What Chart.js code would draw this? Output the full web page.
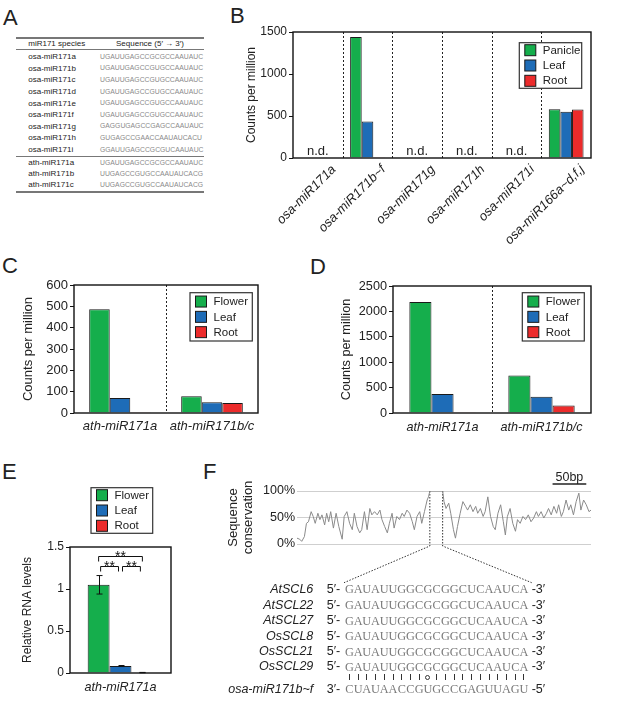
<!DOCTYPE html>
<html>
<head>
<meta charset="utf-8">
<title>miR171 expression</title>
<script src="https://cdn.jsdelivr.net/npm/chart.js@4.4.1/dist/chart.umd.min.js"></script>
<style>
  body { margin: 0; background: #fff; }
  #fig { position: relative; width: 617px; height: 701px; overflow: hidden;
         font-family: "Liberation Sans", Arial, sans-serif; color: #222; }
  #fig canvas { position: absolute; }
  .t { position: absolute; white-space: nowrap; }
  .hr { position: absolute; left: 16px; width: 188px; background: #777; }
</style>
</head>
<body>
<div id="fig"></div>
<script>
// ---- Panel A: mature miR171 sequences ----
const tableNames = ["osa-miR171a", "osa-miR171b", "osa-miR171c", "osa-miR171d", "osa-miR171e",
  "osa-miR171f", "osa-miR171g", "osa-miR171h", "osa-miR171i", "ath-miR171a", "ath-miR171b", "ath-miR171c"];
const tableSeqs = ["UGAUUGAGCCGCGCCAAUAUC", "UGAUUGAGCCGUGCCAAUAUC", "UGAUUGAGCCGUGCCAAUAUC",
  "UGAUUGAGCCGUGCCAAUAUC", "UGAUUGAGCCGUGCCAAUAUC", "UGAUUGAGCCGUGCCAAUAUC", "GAGGUGAGCCGAGCCAAUAUC",
  "GUGAGCCGAACCAAUAUCACU", "GGAUUGAGCCGCGUCAAUAUC", "UGAUUGAGCCGCGCCAAUAUC", "UUGAGCCGUGCCAAUAUCACG",
  "UUGAGCCGUGCCAAUAUCACG"];

// ---- Panel B: rice small RNA counts (null = not detected) ----
const riceLabels = ["osa-miR171a", "osa-miR171b~f", "osa-miR171g", "osa-miR171h", "osa-miR171i", "osa-miR166a~d,f,j"];
const ricePanicle = [null, 1440, null, null, null, 580];
const riceLeaf = [null, 434, null, null, null, 552];
const riceRoot = [null, 10, null, null, null, 578];

// ---- Panels C and D: Arabidopsis small RNA counts ----
const athLabels = ["ath-miR171a", "ath-miR171b/c"];
const cFlower = [486, 78];
const cLeaf = [70, 50];
const cRoot = [1, 47];
const dFlower = [2186, 737];
const dLeaf = [372, 319];
const dRoot = [3, 149];

// ---- Panel E: qRT-PCR ----
const qLabels = ["ath-miR171a"];
const qFlower = [1.05];
const qFlowerErr = [0.11];
const qLeaf = [0.083];
const qLeafErr = [0.006];
const qRoot = [0.005];
const qRootErr = [0.002];
const sigPairs = [[0, 1], [1, 2], [0, 2]];
const sigLevels = [1.27, 1.27, 1.39];
const sigText = ["**", "**", "**"];

// ---- Panel F: conservation trace (bp, %) and target sites ----
const consPos = [0, 4, 7, 11, 14, 17, 21, 24, 27, 31, 34, 37, 41, 44, 47, 50, 54, 58, 62, 67, 70, 74, 78, 82,
  85, 89, 93, 96, 100, 104, 108, 111, 115, 119, 123, 126, 130, 134, 137, 141, 144, 148, 152, 156, 159, 163,
  167, 171, 174, 178, 182, 185, 189, 193, 195, 197, 216, 218, 221, 225, 228, 232, 235, 238, 242, 246, 250,
  253, 257, 261, 265, 268, 272, 276, 279, 283, 287, 291, 294, 298, 302, 306, 309, 312, 316, 320, 324, 327,
  331, 335, 339, 343, 347, 351, 355, 358, 362, 366, 370, 373, 377, 381, 385, 388, 392, 395, 399, 403, 406,
  410, 414, 418, 421, 425, 429, 433, 436];
const consVal = [11, 9, 5, 14, 39, 42, 61, 52, 39, 58, 46, 55, 36, 58, 42, 61, 30, 58, 33, 9, 52, 61, 39, 27,
  58, 33, 21, 27, 61, 27, 67, 55, 61, 55, 64, 46, 33, 21, 39, 58, 30, 52, 46, 58, 52, 64, 58, 42, 27, 52, 61,
  39, 61, 83, 89, 100, 100, 80, 67, 77, 58, 27, 11, 33, 58, 80, 71, 64, 74, 61, 71, 58, 67, 52, 61, 89, 52,
  33, 27, 58, 74, 42, 17, 52, 67, 39, 24, 46, 39, 52, 46, 55, 42, 49, 61, 52, 61, 49, 58, 67, 55, 71, 58,
  74, 52, 61, 83, 64, 74, 55, 80, 96, 64, 83, 74, 61, 64];
const siteStart = 197;
const siteEnd = 216;
const scaleBarEnd = 429;
const scaleBarLen = 50;
const targetNames = ["AtSCL6", "AtSCL22", "AtSCL27", "OsSCL8", "OsSCL21", "OsSCL29"];
const targetSites = ["GAUAUUGGCGCGGCUCAAUCA", "GAUAUUGGCGCGGCUCAAUCA", "GAUAUUGGCGCGGCUCAAUCA",
  "GAUAUUGGCGCGGCUCAAUCA", "GAUAUUGGCGCGGCUCAAUCA", "GAUAUUGGCGCGGCUCAAUCA"];
const guideName = "osa-miR171b~f";
const guideSeq = "CUAUAACCGUGCCGAGUUAGU";
const pairMarks = "|||||||||o|||||||||||";

const GREEN = "#15ae4c", BLUE = "#1e6cb7", RED = "#ec2b2b", EDGE = "#1a1a1a";
const SANS = '"Liberation Sans", Arial, sans-serif';
const SERIF = '"Liberation Serif", "Times New Roman", serif';

const fig = document.getElementById("fig");

// text placed by its vertical centre
function addText(txt, x, cy, size, o = {}) {
  const d = document.createElement("div");
  d.className = "t";
  d.textContent = txt;
  d.style.fontSize = size + "px";
  d.style.lineHeight = size + "px";
  d.style.top = (cy - size / 2) + "px";
  if (o.align === "right") d.style.right = (617 - x) + "px";
  else if (o.align === "center") { d.style.left = x + "px"; d.style.transform = "translateX(-50%)"; }
  else d.style.left = x + "px";
  if (o.color) d.style.color = o.color;
  if (o.italic) d.style.fontStyle = "italic";
  if (o.family) d.style.fontFamily = o.family;
  fig.appendChild(d);
  return d;
}

function addRule(y, h) {
  const d = document.createElement("div");
  d.className = "hr";
  d.style.top = y + "px";
  d.style.height = h + "px";
  fig.appendChild(d);
}

// panel letters
addText("A", 3, 17.5, 22);
addText("B", 230, 15.5, 22);
addText("C", 2, 266, 22);
addText("D", 310, 266.5, 22);
addText("E", 2, 472, 22);
addText("F", 203, 472, 22);

// Panel A table
addRule(37, 1.5);
addRule(49, 1);
addRule(156, 1);
addRule(191, 1.5);
addText("miR171 species", 56.7, 43.5, 8, { align: "center" });
addText("Sequence (5\u2032 \u2192 3\u2032)", 150, 43.5, 8, { align: "center" });
tableNames.forEach((name, i) => {
  const y = i < 9 ? 57.3 + i * 11.58 : 163 + (i - 9) * 11.2;
  addText(name, 28.3, y, 8);
  addText(tableSeqs[i], 100, y, 6.8, { color: "#8a8a8a" });
});

function makeCanvas(box, m) {
  const cv = document.createElement("canvas");
  cv.width = box.r - box.l + m.l + m.r;
  cv.height = box.b - box.t + m.t + m.b;
  cv.style.left = (box.l - m.l) + "px";
  cv.style.top = (box.t - m.t) + "px";
  fig.appendChild(cv);
  return cv;
}

// plot frame, dotted category dividers and n.d. marks
const framePlugin = {
  id: "frame",
  beforeDatasetsDraw(chart, args, o) {
    if (!o.dividers) return;
    const a = chart.chartArea, xs = chart.scales.x, ctx = chart.ctx;
    ctx.save();
    ctx.strokeStyle = "#222";
    ctx.lineWidth = 1;
    ctx.setLineDash([2, 2]);
    for (let i = 0; i < chart.data.labels.length - 1; i++) {
      const px = Math.round((xs.getPixelForValue(i) + xs.getPixelForValue(i + 1)) / 2) + 0.5;
      ctx.beginPath();
      ctx.moveTo(px, a.top);
      ctx.lineTo(px, a.bottom);
      ctx.stroke();
    }
    ctx.restore();
  },
  afterDatasetsDraw(chart, args, o) {
    const a = chart.chartArea, xs = chart.scales.x, ctx = chart.ctx;
    ctx.save();
    if (o.nd) {
      ctx.font = o.nd;
      ctx.fillStyle = "#222";
      ctx.textAlign = "center";
      chart.data.labels.forEach((l, i) => {
        if (chart.data.datasets.every(ds => ds.data[i] == null))
          ctx.fillText("n.d.", xs.getPixelForValue(i), a.bottom - 3);
      });
    }
    ctx.strokeStyle = "#111";
    ctx.lineWidth = 1.4;
    ctx.strokeRect(a.left, a.top, a.right - a.left, a.bottom - a.top);
    ctx.restore();
  }
};

// boxed legend built from the datasets
const boxLegend = {
  id: "boxLegend",
  afterDraw(chart, args, o) {
    if (!o.box) return;
    const ctx = chart.ctx, b = o.box;
    ctx.save();
    ctx.fillStyle = "#fff";
    ctx.fillRect(b.x, b.y, b.w, b.h);
    ctx.strokeStyle = "#333";
    ctx.lineWidth = 1.2;
    ctx.strokeRect(b.x, b.y, b.w, b.h);
    ctx.font = o.font;
    ctx.textBaseline = "middle";
    chart.data.datasets.forEach((ds, i) => {
      const cy = b.y + b.h / 2 + (i - 1) * 15.3;
      ctx.fillStyle = ds.backgroundColor;
      ctx.fillRect(b.x + 5.5, cy - 5.5, 11, 11);
      ctx.lineWidth = 1;
      ctx.strokeStyle = EDGE;
      ctx.strokeRect(b.x + 5.5, cy - 5.5, 11, 11);
      ctx.fillStyle = "#222";
      ctx.fillText(ds.label, b.x + 23.5, cy + 0.5);
    });
    ctx.restore();
  }
};

// error bars and significance brackets
const errorBars = {
  id: "errorBars",
  afterDatasetsDraw(chart, args, o) {
    const ctx = chart.ctx, ys = chart.scales.y;
    ctx.save();
    ctx.strokeStyle = "#111";
    ctx.lineWidth = 1;
    chart.data.datasets.forEach((ds, di) => {
      if (!ds.errors) return;
      chart.getDatasetMeta(di).data.forEach((bar, i) => {
        const v = ds.data[i], e = ds.errors[i];
        const yt = ys.getPixelForValue(v + e), yb = ys.getPixelForValue(v - e);
        const x = Math.round(bar.x) + 0.5;
        ctx.beginPath();
        ctx.moveTo(x, yt); ctx.lineTo(x, yb);
        ctx.moveTo(x - 3, yt); ctx.lineTo(x + 3, yt);
        ctx.moveTo(x - 3, yb); ctx.lineTo(x + 3, yb);
        ctx.stroke();
      });
    });
    if (o.pairs) {
      ctx.font = o.font;
      ctx.textAlign = "center";
      ctx.fillStyle = "#111";
      o.pairs.forEach(([a, b], k) => {
        const inset = k < 2 ? 2 : 0;
        const xa = chart.getDatasetMeta(a).data[0].x + inset;
        const xb = chart.getDatasetMeta(b).data[0].x - inset;
        const y = Math.round(ys.getPixelForValue(o.levels[k])) + 0.5;
        ctx.beginPath();
        ctx.moveTo(xa, y + 5); ctx.lineTo(xa, y); ctx.lineTo(xb, y); ctx.lineTo(xb, y + 5);
        ctx.stroke();
        ctx.fillText(o.text[k], (xa + xb) / 2, y + 4);
      });
    }
    ctx.restore();
  }
};

function barPanel(box, m, cfg) {
  const cv = makeCanvas(box, m);
  const ox = box.l - m.l, oy = box.t - m.t;
  const lg = cfg.legend;
  return new Chart(cv, {
    type: "bar",
    data: {
      labels: cfg.labels,
      datasets: cfg.series.map(s => ({
        label: s.label, data: s.data, errors: s.err,
        backgroundColor: s.color, borderColor: EDGE, borderWidth: 1, borderSkipped: "bottom",
        categoryPercentage: cfg.catPct, barPercentage: 1
      }))
    },
    options: {
      responsive: false, animation: false, devicePixelRatio: 1,
      layout: { padding: { top: m.t, right: m.r, left: 0, bottom: 0 } },
      plugins: {
        legend: { display: false }, tooltip: { enabled: false },
        frame: { dividers: cfg.dividers, nd: cfg.nd },
        boxLegend: { box: { x: lg.x - ox, y: lg.y - oy, w: lg.w, h: lg.h }, font: cfg.legendFont },
        errorBars: cfg.sig || {}
      },
      scales: {
        x: {
          grid: { display: false, drawTicks: false }, border: { display: false },
          ticks: {
            color: "#222", font: { size: cfg.xFs, style: "italic" }, autoSkip: false,
            padding: cfg.xPad, maxRotation: cfg.rot, minRotation: cfg.rot, labelOffset: cfg.labelOffset || 0
          },
          afterFit: s => { s.height = m.b; }
        },
        y: {
          min: 0, max: cfg.max,
          grid: { drawOnChartArea: false, drawTicks: true, tickLength: 4, color: "#111" },
          border: { display: false },
          ticks: { stepSize: cfg.step, color: "#222", padding: 2, font: { size: cfg.fs }, callback: v => String(v) },
          title: { display: true, text: cfg.yTitle, color: "#222", font: { size: cfg.fs }, padding: { top: cfg.titlePad } },
          afterFit: s => { s.width = m.l; }
        }
      }
    },
    plugins: [framePlugin, boxLegend, errorBars]
  });
}

// Panel B
barPanel({ l: 293, t: 32, r: 591, b: 158 }, { l: 63, t: 14, r: 14, b: 92 }, {
  labels: riceLabels, catPct: 0.7, max: 1500, step: 500, fs: 12, xFs: 13, xPad: 4, rot: 45, labelOffset: 16,
  yTitle: "Counts per million", titlePad: 14.8, dividers: true, nd: "13px " + SANS,
  legend: { x: 519.3, y: 42.7, w: 62.4, h: 45.6 }, legendFont: "11.5px " + SANS,
  series: [
    { label: "Panicle", data: ricePanicle, color: GREEN },
    { label: "Leaf", data: riceLeaf, color: BLUE },
    { label: "Root", data: riceRoot, color: RED }
  ]
});

// Panel C
barPanel({ l: 74, t: 285, r: 258, b: 413 }, { l: 74, t: 12, r: 10, b: 27 }, {
  labels: athLabels, catPct: 0.67, max: 600, step: 100, fs: 13, xFs: 13, xPad: 6, rot: 0,
  yTitle: "Counts per million", titlePad: 20.2, dividers: true,
  legend: { x: 190, y: 292.7, w: 62.3, h: 48.3 }, legendFont: "11.5px " + SANS,
  series: [
    { label: "Flower", data: cFlower, color: GREEN },
    { label: "Leaf", data: cLeaf, color: BLUE },
    { label: "Root", data: cRoot, color: RED }
  ]
});

// Panel D
barPanel({ l: 393, t: 286, r: 591, b: 413 }, { l: 74, t: 12, r: 12, b: 27 }, {
  labels: athLabels, catPct: 0.67, max: 2500, step: 500, fs: 12.7, xFs: 12.6, xPad: 6.7, rot: 0,
  yTitle: "Counts per million", titlePad: 19.4, dividers: true,
  legend: { x: 522.3, y: 292.7, w: 62, h: 48.3 }, legendFont: "11.5px " + SANS,
  series: [
    { label: "Flower", data: dFlower, color: GREEN },
    { label: "Leaf", data: dLeaf, color: BLUE },
    { label: "Root", data: dRoot, color: RED }
  ]
});

// Panel E
barPanel({ l: 70, t: 547, r: 171, b: 673 }, { l: 70, t: 65, r: 12, b: 28 }, {
  labels: qLabels, catPct: 0.65, max: 1.5, step: 0.5, fs: 12, xFs: 12.6, xPad: 6.7, rot: 0,
  yTitle: "Relative RNA levels", titlePad: 20.8, dividers: false,
  legend: { x: 91, y: 487.7, w: 61.7, h: 45.6 }, legendFont: "11.5px " + SANS,
  sig: { pairs: sigPairs, levels: sigLevels, text: sigText, font: "14px " + SANS },
  series: [
    { label: "Flower", data: qFlower, err: qFlowerErr, color: GREEN },
    { label: "Leaf", data: qLeaf, err: qLeafErr, color: BLUE },
    { label: "Root", data: qRoot, err: qRootErr, color: RED }
  ]
});

// Panel F: conservation trace with zoom-in to the target site
const fBox = { l: 297, t: 491, r: 591, b: 544 }, fM = { l: 71, t: 23, r: 10, b: 42 };
const fOx = fBox.l - fM.l, fOy = fBox.t - fM.t;
const zoomLines = {
  id: "zoomLines",
  beforeDatasetsDraw(chart, args, o) {
    const ctx = chart.ctx, xs = chart.scales.x, ys = chart.scales.y;
    const x0 = xs.getPixelForValue(o.start), x1 = xs.getPixelForValue(o.end);
    const yt = ys.getPixelForValue(100), yb = ys.getPixelForValue(0) + 2;
    ctx.save();
    ctx.strokeStyle = "#333";
    ctx.lineWidth = 1;
    ctx.setLineDash([1.5, 1.5]);
    ctx.beginPath();
    ctx.moveTo(x0, yt); ctx.lineTo(x0, yb); ctx.lineTo(o.left[0], o.left[1]);
    ctx.moveTo(x1, yt); ctx.lineTo(x1, yb); ctx.lineTo(o.right[0], o.right[1]);
    ctx.stroke();
    ctx.setLineDash([]);
    const s1 = xs.getPixelForValue(o.barEnd), s0 = xs.getPixelForValue(o.barEnd - o.barLen);
    ctx.strokeStyle = "#222";
    ctx.lineWidth = 1.3;
    ctx.beginPath();
    ctx.moveTo(s0, o.barY); ctx.lineTo(s1, o.barY);
    ctx.stroke();
    ctx.fillStyle = "#222";
    ctx.font = "12.5px " + SANS;
    ctx.textAlign = "center";
    ctx.fillText(o.barLen + "bp", (s0 + s1) / 2, o.barY - 3);
    ctx.restore();
  }
};
new Chart(makeCanvas(fBox, fM), {
  type: "line",
  data: {
    datasets: [{
      data: consPos.map((p, i) => ({ x: p, y: consVal[i] })),
      borderColor: "#8a8a8a", borderWidth: 1, pointRadius: 0, tension: 0, fill: false
    }]
  },
  options: {
    responsive: false, animation: false, devicePixelRatio: 1,
    layout: { padding: { top: fM.t, right: fM.r, left: 0, bottom: fM.b } },
    plugins: {
      legend: { display: false }, tooltip: { enabled: false },
      zoomLines: {
        start: siteStart, end: siteEnd, barEnd: scaleBarEnd, barLen: scaleBarLen, barY: 484 - fOy,
        left: [344 - fOx, 582.7 - fOy], right: [531.7 - fOx, 582.7 - fOy]
      }
    },
    scales: {
      x: { type: "linear", min: 0, max: 436, display: false },
      y: {
        min: 0, max: 100,
        grid: { color: "#cfcfcf", drawTicks: false }, border: { display: false },
        ticks: { stepSize: 50, padding: 2, color: "#222", font: { size: 12.5 }, callback: v => v + "%" },
        title: { display: true, text: ["Sequence", "conservation"], color: "#222", font: { size: 13, lineHeight: 1.15 }, padding: { top: 0 } },
        afterFit: s => { s.width = fM.l; }
      }
    }
  },
  plugins: [zoomLines]
});

// target site alignment
const cellW = 8.73, seqX = 345;
function siteRow(name, seq, cy, left, right) {
  addText(name, 313.3, cy, 12.5, { align: "right", italic: true });
  addText(left, 326.7, cy, 12.5);
  [...seq].forEach((ch, i) => addText(ch, seqX + cellW * (i + 0.5), cy, 12.3, { align: "center", color: "#7a7a7a", family: SERIF }));
  addText(right, 531.7, cy, 12.5);
}
const rowY = [589.5, 605, 620.7, 636.5, 651.7, 666.7];
targetNames.forEach((n, i) => siteRow(n, targetSites[i], rowY[i], "5\u2032-", "-3\u2032"));
[...pairMarks].forEach((c, i) => {
  const d = document.createElement("div");
  d.style.position = "absolute";
  const cx = seqX + cellW * (i + 0.5);
  if (c === "|") {
    d.style.left = (cx - 0.5) + "px"; d.style.top = "673.5px";
    d.style.width = "1px"; d.style.height = "6.5px"; d.style.background = "#333";
  } else {
    d.style.left = (cx - 2.5) + "px"; d.style.top = "674.5px";
    d.style.width = "3px"; d.style.height = "3px"; d.style.border = "1px solid #333"; d.style.borderRadius = "50%";
  }
  fig.appendChild(d);
});
siteRow(guideName, guideSeq, 689, "3\u2032-", "-5\u2032");
</script>
</body>
</html>
